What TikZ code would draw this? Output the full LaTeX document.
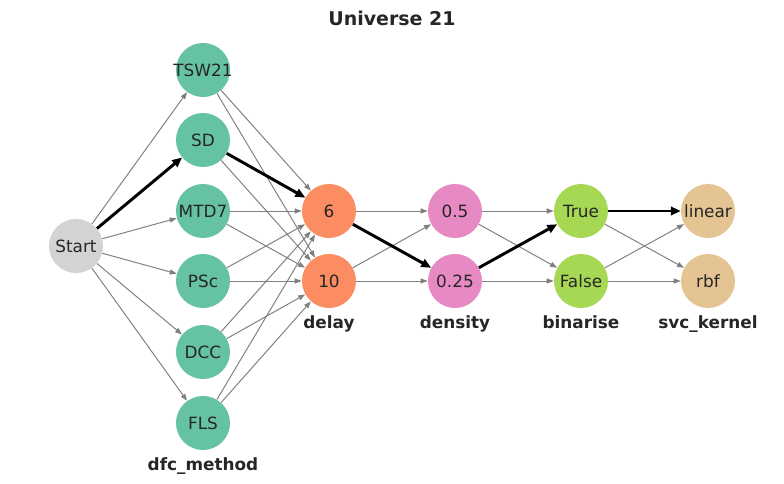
\documentclass[tikz,border=0pt]{standalone}
\usepackage{fontspec}
\setmainfont{DejaVu Sans}
\usepackage{tikz}
\usetikzlibrary{arrows.meta}

\definecolor{startgray}{HTML}{D3D3D3}
\definecolor{dfcgreen}{HTML}{66C2A5}
\definecolor{delayorange}{HTML}{FC8D62}
\definecolor{densitypink}{HTML}{E78AC3}
\definecolor{binlime}{HTML}{A6D854}
\definecolor{svctan}{HTML}{E5C494}
\definecolor{labelgray}{HTML}{262626}

\begin{document}
\begin{tikzpicture}[
x=0.025cm, y=-0.025cm,
opt/.style={circle, minimum size=1.35cm, inner sep=0pt, font=\fontsize{12}{14}\selectfont, text=labelgray},
param/.style={anchor=base, font=\fontsize{12}{14}\selectfont\bfseries, text=labelgray},
edge/.style={-{Triangle[length=5pt, width=3.6pt]}, draw=gray, line width=0.7pt},
chosen/.style={-{Triangle[length=7pt, width=6pt]}, draw=black, line width=2.1pt}
]
\useasboundingbox (0,0) rectangle (784,484);
\node[font=\fontsize{13.5}{16}\selectfont\bfseries, text=labelgray] (title) at (392,18) {Universe 21};

% start node
\node[opt, fill=startgray] (start) at (76,246) {Start};

% dfc_method
\node[opt, fill=dfcgreen] (tsw) at (203,70) {\makebox[0pt]{TSW21}};
\node[opt, fill=dfcgreen] (sd) at (203,140) {SD};
\node[opt, fill=dfcgreen] (mtd) at (203,211) {MTD7};
\node[opt, fill=dfcgreen] (psc) at (203,281) {PSc};
\node[opt, fill=dfcgreen] (dcc) at (203,352) {DCC};
\node[opt, fill=dfcgreen] (fls) at (203,423) {FLS};
\node[param] (dfclabel) at (203,471) {dfc\_method};

% delay
\node[opt, fill=delayorange] (d6) at (329,211) {6};
\node[opt, fill=delayorange] (d10) at (329,281) {10};
\node[param] (delaylabel) at (329,329) {delay};

% density
\node[opt, fill=densitypink] (r05) at (455,211) {0.5};
\node[opt, fill=densitypink] (r025) at (455,281) {0.25};
\node[param] (densitylabel) at (455,329) {density};

% binarise
\node[opt, fill=binlime] (btrue) at (581,211) {True};
\node[opt, fill=binlime] (bfalse) at (581,281) {False};
\node[param] (binlabel) at (581,329) {binarise};

% svc_kernel
\node[opt, fill=svctan] (klin) at (708,211) {linear};
\node[opt, fill=svctan] (krbf) at (708,281) {rbf};
\node[param] (kernellabel) at (708,329) {svc\_kernel};

% all options
\foreach \m in {tsw,mtd,psc,dcc,fls} \draw[edge] (start) -- (\m);
\foreach \m in {tsw,sd,mtd,psc,dcc,fls} {
  \draw[edge] (\m) -- (d6);
  \draw[edge] (\m) -- (d10);
}
\foreach \a/\b in {d6/r05, d10/r05, d10/r025, r05/btrue, r05/bfalse, r025/bfalse, btrue/krbf, bfalse/klin, bfalse/krbf}
  \draw[edge] (\a) -- (\b);

% chosen path
\draw[chosen] (start) -- (sd);
\draw[chosen] (sd) -- (d6);
\draw[chosen] (d6) -- (r025);
\draw[chosen] (r025) -- (btrue);
\draw[chosen] (btrue) -- (klin);
\end{tikzpicture}
\end{document}
